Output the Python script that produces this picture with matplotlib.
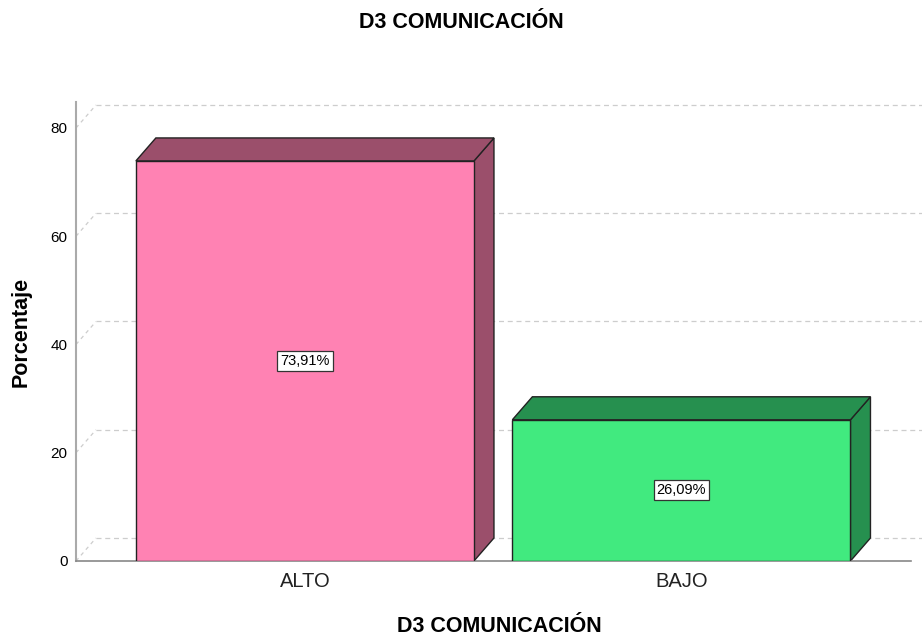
import matplotlib.pyplot as plt
from matplotlib.patches import Polygon

plt.rcParams['font.family'] = ['Liberation Sans', 'DejaVu Sans']

# data
categories = ["ALTO", "BAJO"]
percentages = [73.91, 26.09]
value_labels = ["73,91%", "26,09%"]
y_ticks = [0, 20, 40, 60, 80]
title = "D3 COMUNICACIÓN"

front_colors = ["#FF82B3", "#41EA7F"]
shade_colors = ["#9B4F6B", "#26904F"]

W, H = 922, 637
fig = plt.figure(figsize=(W / 100, H / 100), dpi=100)
ax = fig.add_axes([76 / W, (H - 561) / H, (922 - 76) / W, 459 / H])

xmin, xmax = -0.608, 1.639
ymin, ymax = 0, 84.8
ax.set_xlim(xmin, xmax)
ax.set_ylim(ymin, ymax)

# depth of the 3D effect, in pixels -> data units
px_x = (xmax - xmin) / (922 - 76)
px_y = (ymax - ymin) / 459
dx, dy = 20 * px_x, 23 * px_y
bar_w = 0.898

# back-wall gridlines
for t in y_ticks:
    ax.plot([xmin + dx, xmax], [t + dy, t + dy], ls=(0, (4, 3)), color="#CDCDCD",
            lw=0.9, zorder=1, clip_on=False)
    ax.plot([xmin, xmin + dx], [t, t + dy], ls=(0, (3, 3)), color="#CDCDCD",
            lw=0.9, zorder=1, clip_on=False)

for i, (v, fc, sc) in enumerate(zip(percentages, front_colors, shade_colors)):
    x0, x1 = i - bar_w / 2, i + bar_w / 2
    side = [(x1, 0), (x1 + dx, dy), (x1 + dx, v + dy), (x1, v)]
    top = [(x0, v), (x0 + dx, v + dy), (x1 + dx, v + dy), (x1, v)]
    ax.add_patch(Polygon(side, closed=True, fc=sc, ec="#222222", lw=1.0, zorder=2))
    ax.add_patch(Polygon(top, closed=True, fc=sc, ec="#222222", lw=1.0, zorder=2))
    ax.bar(i, v, width=bar_w, color=fc, edgecolor="#222222", lw=1.0, zorder=3)
    ax.text(i, v / 2, value_labels[i], ha="center", va="center", fontsize=10.5,
            zorder=4, bbox=dict(boxstyle="square,pad=0.2", fc="white", ec="#333333", lw=0.9))

ax.set_xticks(range(len(categories)))
ax.set_xticklabels(categories, fontsize=14.5, color="#222222")
ax.set_yticks(y_ticks)
ax.set_yticklabels([str(t) for t in y_ticks], fontsize=11)
ax.tick_params(axis="x", length=0, pad=8)
ax.tick_params(axis="y", length=0, pad=6)

for s in ["top", "right"]:
    ax.spines[s].set_visible(False)
ax.spines["left"].set_color("#AAAAAA")
ax.spines["left"].set_linewidth(1.5)
ax.spines["bottom"].set_color("#888888")
ax.spines["bottom"].set_linewidth(1.2)
ax.spines["bottom"].set_bounds(xmin, 1.610)

ax.set_ylabel("Porcentaje", fontsize=15.5, fontweight="bold", labelpad=14)
ax.set_xlabel(title, fontsize=15.5, fontweight="bold", labelpad=18)
fig.text(0.5, 1 - 22 / H, title, ha="center", va="center", fontsize=15.5, fontweight="bold")

fig.savefig("out.png", dpi=100)
